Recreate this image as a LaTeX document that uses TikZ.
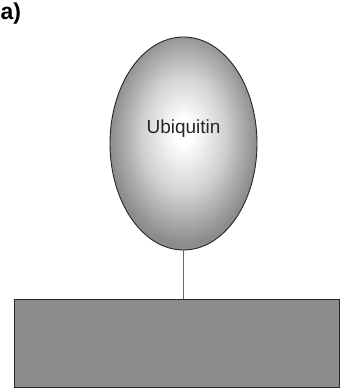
\documentclass[tikz,border=0pt]{standalone}
\usepackage{fontspec}
\setmainfont{Liberation Sans}
\usetikzlibrary{shapes.geometric}
\pgfdeclareradialshading{ubishade}{\pgfpoint{0bp}{3bp}}{color(0bp)=(white); color(3bp)=(white); color(14bp)=(black!18); color(25bp)=(black!45); color(50bp)=(black!45)}
\tikzset{
  ubi/.style={ellipse, draw=black!85, line width=0.9pt, shading=ubishade, minimum width=147pt, minimum height=213pt, inner sep=0pt},
  surface/.style={draw=black!85, line width=1pt, fill=black!45, minimum width=325pt, minimum height=88pt, inner sep=0pt},
  link/.style={draw=black!60, line width=1.8pt},
  lbl/.style={font=\fontsize{23}{25}\selectfont\bfseries, inner sep=0pt, anchor=north west},
  ubitext/.style={font=\fontsize{19}{21}\selectfont, text=black!85}
}
\begin{document}
\begin{tikzpicture}[x=1pt,y=-1pt]
\useasboundingbox (0,0) rectangle (340,390);
\node[lbl] (lab) at (0.5,3) {a)};
\node[surface] (surf) at (176.5,343.5) {};
\node[ubi] (ub) at (183.5,143.5) {};
\node[ubitext] (txt) at (183.5,129) {Ubiquitin};
\draw[link] (ub.south) -- (surf.north -| ub.south);
\end{tikzpicture}
\end{document}
